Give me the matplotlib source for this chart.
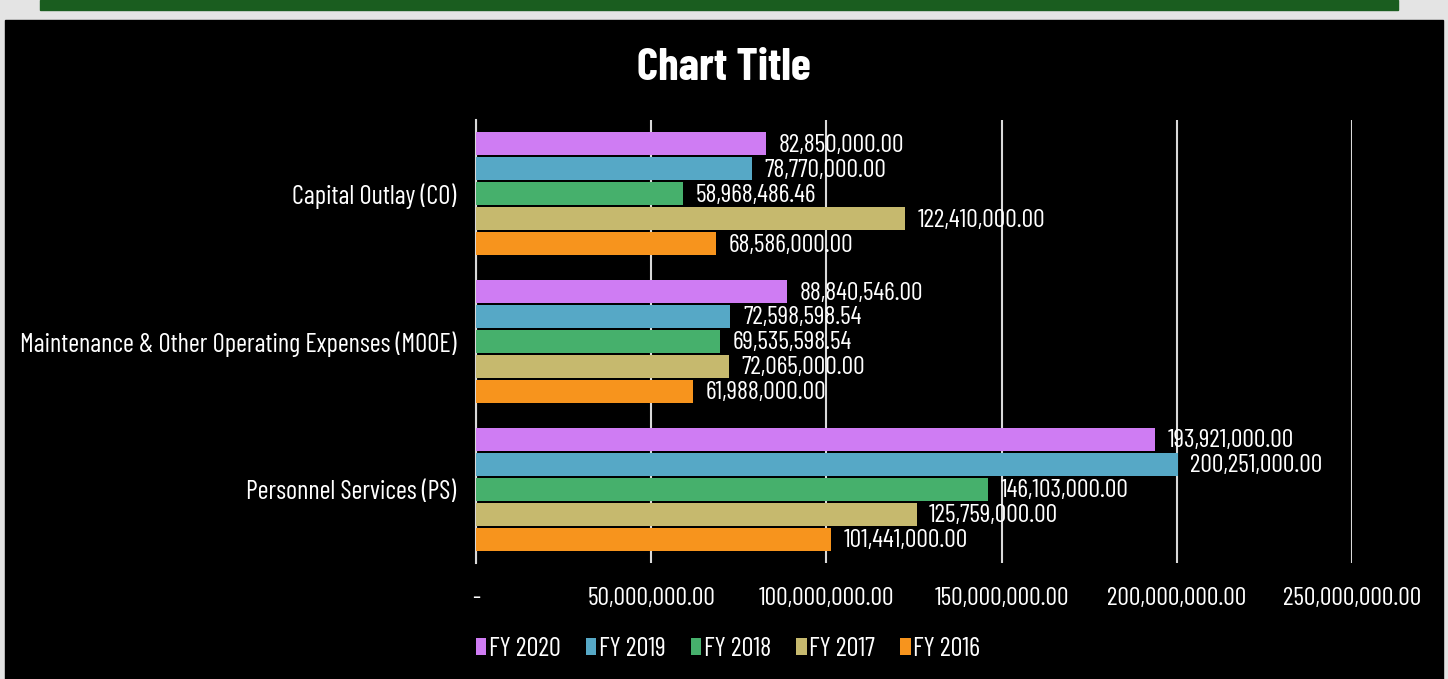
import matplotlib.pyplot as plt
from matplotlib.patches import Rectangle
import numpy as np

plt.rcParams['font.family'] = ['Barlow Condensed', 'DejaVu Sans']

# 数据
categories = ['Personnel Services (PS)',
              'Maintenance & Other Operating Expenses (MOOE)',
              'Capital Outlay (CO)']
series = ['FY 2020', 'FY 2019', 'FY 2018', 'FY 2017', 'FY 2016']
fy2020 = [193921000.00, 88840546.00, 82850000.00]
fy2019 = [200251000.00, 72598598.54, 78770000.00]
fy2018 = [146103000.00, 69535598.54, 58968486.46]
fy2017 = [125759000.00, 72065000.00, 122410000.00]
fy2016 = [101441000.00, 61988000.00, 68586000.00]
values = [fy2020, fy2019, fy2018, fy2017, fy2016]
colors = ['#cf7cf3', '#56a8c6', '#46b06c', '#c6b96e', '#f7941d']
xticks = [0, 50000000, 100000000, 150000000, 200000000, 250000000]

fig = plt.figure(figsize=(14.48, 6.79), dpi=100, facecolor='#e4e4e4')

# 背景: 黑色图表区 + 顶部绿条
fig.add_artist(Rectangle((5 / 1448, 0), 1438 / 1448, 659 / 679,
                         transform=fig.transFigure, color='black', zorder=0))
fig.add_artist(Rectangle((40 / 1448, 669 / 679), 1358 / 1448, 10 / 679,
                         transform=fig.transFigure, color='#1a5d1f', zorder=0))

ax = fig.add_axes([476 / 1448, 116 / 679, 876 / 1448, 443 / 679])
ax.set_facecolor('black')

slot = 25 / 148
h = 23 / 148
y = np.arange(len(categories))
for i, (name, vals, c) in enumerate(zip(series, values, colors)):
    pos = y + (2 - i) * slot
    ax.barh(pos, vals, height=h, color=c, label=name, zorder=3)
    for yy, v in zip(pos, vals):
        ax.annotate(f'{v:,.2f}', (v, yy), xytext=(9, -1), textcoords='offset points',
                    va='center', ha='left', color='white', fontsize=18.5, zorder=4)

ax.set_xlim(0, 250000000)
ax.set_ylim(-0.5, 2.5)
ax.set_yticks(y)
ax.set_yticklabels(categories, fontsize=19)
ax.set_xticks(xticks)
ax.set_xticklabels(['-'] + [f'{t:,.2f}' for t in xticks[1:]], fontsize=18.5)
ax.tick_params(axis='both', length=0, colors='white')
ax.tick_params(axis='x', pad=17)
ax.tick_params(axis='y', pad=14)
ax.grid(axis='x', color='#d9d9d9', linewidth=1.5, zorder=1)
for s in ['top', 'right', 'bottom']:
    ax.spines[s].set_visible(False)
ax.spines['left'].set_color('#d9d9d9')
ax.spines['left'].set_linewidth(1.5)

fig.text(0.5, 1 - 68 / 679, 'Chart Title', ha='center', va='center',
         color='white', fontsize=33, fontweight='bold')

leg = fig.legend(loc='center', bbox_to_anchor=(728 / 1448, 1 - 649 / 679), ncol=5,
                 frameon=False, handlelength=0.4, handleheight=0.6,
                 handletextpad=0.1, columnspacing=0.95, fontsize=19)
for t in leg.get_texts():
    t.set_color('white')

plt.savefig('out.png', dpi=100, facecolor=fig.get_facecolor())
